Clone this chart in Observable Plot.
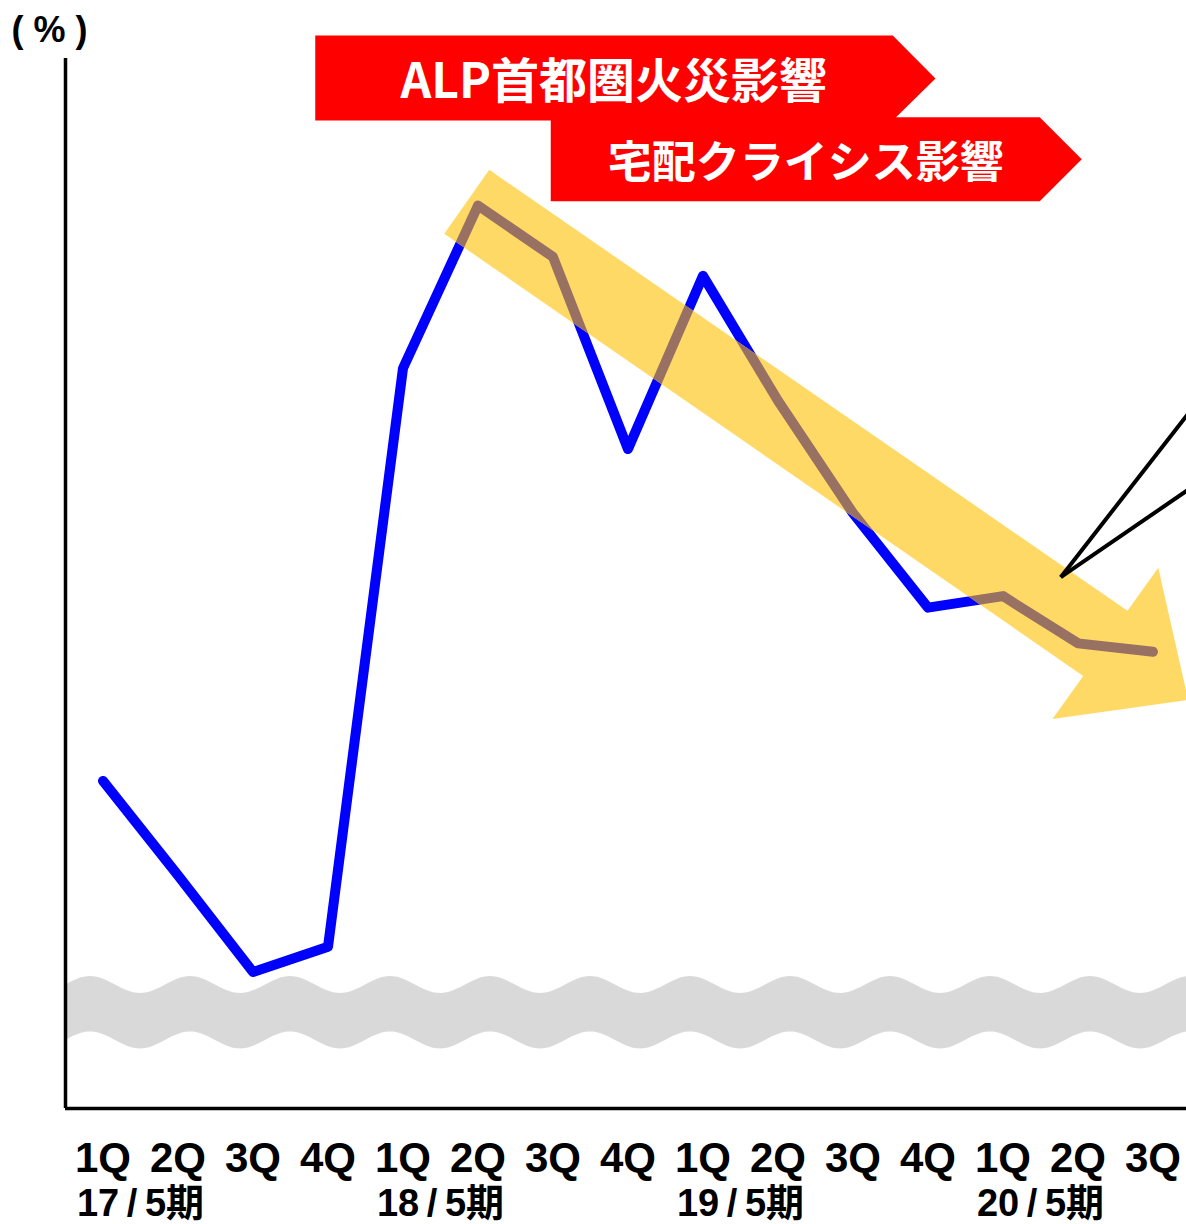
<!DOCTYPE html>
<html><head><meta charset="utf-8">
<script src="https://cdn.jsdelivr.net/npm/d3@7"></script>
<script src="https://cdn.jsdelivr.net/npm/@observablehq/plot@0.6"></script>
<style>body{margin:0;background:#fff;} #chart svg{display:block}</style>
</head><body><div id="chart"></div>
<script>
// x labels
const quarters = ["1Q","2Q","3Q","4Q","1Q","2Q","3Q","4Q","1Q","2Q","3Q","4Q","1Q","2Q","3Q"];
const fiscalYears = ["17\u2009/\u20095期","18\u2009/\u20095期","19\u2009/\u20095期","20\u2009/\u20095期"];
const fiscalYearPos = [0.5, 4.5, 8.5, 12.5];
// series (%; axis has no tick values, read relative to frame)
const values = [31.2, 22.2, 13.0, 15.4, 70.5, 86.0, 81.1, 62.8, 79.3, 67.4, 56.7, 47.7, 48.8, 44.3, 43.5];
// trend arrow outline (data coordinates)
const arrowX = [5.15, 13.66, 14.07, 14.47, 12.66, 13.07, 4.55];
const arrowY = [89.4, 47.4, 51.5, 38.9, 37.1, 41.2, 83.3];
// banners (data coordinates)
const banner1X = [2.83, 10.53, 11.10, 10.53, 2.83];
const banner1Y = [102.2, 102.2, 98.1, 94.1, 94.1];
const banner2X = [5.97, 12.49, 13.05, 12.49, 5.97];
const banner2Y = [94.4, 94.4, 90.4, 86.4, 86.4];
const bannerLabels = ["ALP首都圏火災影響", "宅配クライシス影響"];
const bannerLabelX = [6.81, 9.37];
const bannerLabelY = [97.7, 90.0];
const bannerFontSize = [48, 44];
// callout lines
const calloutX1 = [12.77, 12.77], calloutY1 = [50.6, 50.6];
const calloutX2 = [15.3, 15.3], calloutY2 = [73.8, 63.0];
// axis break band
const breakTop = 11.76, breakBottom = 6.48, breakAmp = 0.81;

const font = '"Liberation Sans","Noto Sans CJK JP",sans-serif';
const cjk = '"Noto Sans CJK JP","Noto Sans CJK SC",sans-serif';

const wave = [];
for (let px = 65; px <= 1190; px += 4) {
  const x = (px - 65) / 75 - 0.5;
  const c = Math.cos(2 * Math.PI * (px - 90) / 100);
  wave.push({x, top: breakTop + breakAmp * c, bottom: breakBottom + breakAmp * c});
}

const idx = values.map((d, i) => i);
const arrow = arrowX.map((x, i) => ({x, y: arrowY[i]}));
const b1 = banner1X.map((x, i) => ({x, y: banner1Y[i]}));
const b2 = banner2X.map((x, i) => ({x, y: banner2Y[i]}));

const chart = Plot.plot({
  width: 1186, height: 1224,
  marginLeft: 65, marginRight: 0, marginTop: 58, marginBottom: 116,
  x: {domain: [-0.5, 14.4467], axis: null},
  y: {domain: [0, 100], axis: null},
  style: {background: "white", overflow: "visible"},
  marks: [
    Plot.areaY(wave, {x: "x", y1: "bottom", y2: "top", fill: "#D9D9D9"}),
    Plot.line(idx, {x: i => i, y: i => values[i], stroke: "#0000FF", strokeWidth: 10, strokeLinecap: "round", strokeLinejoin: "round"}),
    Plot.line(arrow, {x: "x", y: "y", fill: "#FFD966", stroke: "none", ariaDescription: "trend-arrow"}),
    Plot.line(idx, {x: i => i, y: i => values[i], stroke: "#987163", strokeWidth: 10, strokeLinecap: "round", strokeLinejoin: "round", ariaDescription: "overlap-line"}),
    Plot.link(calloutX1, {x1: (d, i) => calloutX1[i], y1: (d, i) => calloutY1[i], x2: (d, i) => calloutX2[i], y2: (d, i) => calloutY2[i], stroke: "black", strokeWidth: 4}),
    Plot.line(b1, {x: "x", y: "y", fill: "#FF0000", stroke: "none"}),
    Plot.line(b2, {x: "x", y: "y", fill: "#FF0000", stroke: "none"}),
    Plot.text(bannerLabels, {x: (d, i) => bannerLabelX[i], y: (d, i) => bannerLabelY[i], text: d => d, fill: "white", fontSize: (d, i) => bannerFontSize[i], fontWeight: "bold", fontFamily: cjk}),
    Plot.ruleX([-0.5], {stroke: "black", strokeWidth: 3.5}),
    Plot.ruleY([0], {stroke: "black", strokeWidth: 3.5}),
    Plot.text(quarters, {x: (d, i) => i, frameAnchor: "bottom", lineAnchor: "middle", dy: 50, text: d => d, fontSize: 42, fontWeight: "bold", fontFamily: font, fill: "black"}),
    Plot.text(fiscalYears, {x: (d, i) => fiscalYearPos[i], frameAnchor: "bottom", lineAnchor: "middle", dy: 95, text: d => d, fontSize: 38, fontWeight: "bold", fontFamily: font, fill: "black"}),
    Plot.text(["( % )"], {frameAnchor: "top-left", textAnchor: "middle", lineAnchor: "middle", dx: -16, dy: -28, text: d => d, fontSize: 36, fontWeight: "bold", fontFamily: font, fill: "black"})
  ]
});
document.getElementById("chart").appendChild(chart);

// overlap colouring: clip the brown copy of the line to the arrow outline
const svg = d3.select(chart);
const arrowPath = svg.select('g[aria-description="trend-arrow"] path');
const overlap = svg.select('g[aria-description="overlap-line"]');
if (!arrowPath.empty() && !overlap.empty()) {
  const defs = svg.insert("defs", ":first-child");
  defs.append("clipPath").attr("id", "arrowClip").attr("clipPathUnits", "userSpaceOnUse")
    .append("path").attr("d", arrowPath.attr("d"));
  overlap.attr("clip-path", "url(#arrowClip)");
}
</script>
</body></html>
